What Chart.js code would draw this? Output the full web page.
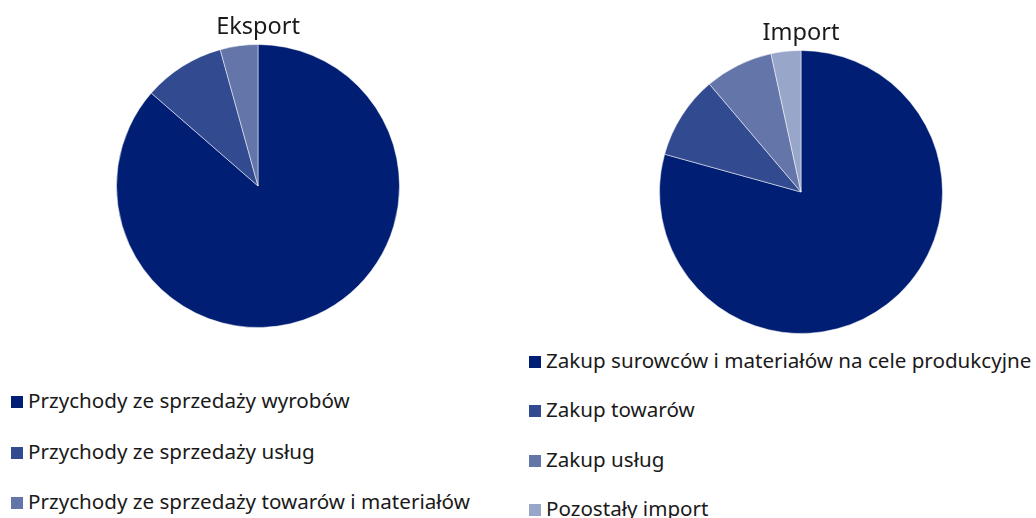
<!DOCTYPE html>
<html>
<head>
<meta charset="utf-8">
<script src="https://cdn.jsdelivr.net/npm/chart.js@4/dist/chart.umd.min.js"></script>
<style>
  html, body { margin: 0; padding: 0; background: #fff; }
  body { width: 1036px; height: 518px; position: relative; overflow: hidden; font-family: "Noto Sans", sans-serif; }
  .wrap { position: absolute; width: 300px; height: 328px; }
  .legend { position: absolute; color: #1a1a1a; font-size: 20.6px; }
  .legend div { position: absolute; white-space: nowrap; line-height: 24px; height: 24px; }
  .legend span.box { display: inline-block; width: 12px; height: 12px; margin-right: 5px; vertical-align: 0px; }
</style>
</head>
<body>
<div class="wrap" id="wrapExport" style="left:108px; top:0px;"><canvas id="exportChart"></canvas></div>
<div class="wrap" id="wrapImport" style="left:651px; top:6px;"><canvas id="importChart"></canvas></div>
<div class="legend" id="legendExport" style="left:11px; top:0px;"></div>
<div class="legend" id="legendImport" style="left:529px; top:0px;"></div>
<script>
// shares in % (clockwise from 12 o'clock)
const exportLabels = ['Przychody ze sprzedaży wyrobów', 'Przychody ze sprzedaży usług', 'Przychody ze sprzedaży towarów i materiałów'];
const exportValues = [86.4, 9.3, 4.3];
const importLabels = ['Zakup surowców i materiałów na cele produkcyjne', 'Zakup towarów', 'Zakup usług', 'Pozostały import'];
const importValues = [79.3, 9.5, 7.8, 3.4];

const colors = ['#001e73', '#324a8f', '#6475aa', '#98a6c9'];

function makePie(canvasId, title, labels, values) {
  const ctx = document.getElementById(canvasId).getContext('2d');
  return new Chart(ctx, {
    type: 'pie',
    data: {
      labels: labels,
      datasets: [{
        data: values,
        backgroundColor: colors.slice(0, values.length),
        borderColor: 'rgba(255,255,255,0.5)',
        borderWidth: 1,
      }]
    },
    options: {
      responsive: true,
      maintainAspectRatio: false,
      animation: false,
      layout: { padding: 0 },
      plugins: {
        legend: { display: false },
        tooltip: { enabled: false },
        title: {
          display: true,
          text: title,
          color: '#1a1a1a',
          font: { family: '"Noto Sans", sans-serif', size: 23.5, weight: 'normal', lineHeight: 1.2 },
          padding: { top: 13, bottom: 2.8 }
        }
      }
    }
  });
}

function makeLegend(elId, labels, rowTops) {
  const el = document.getElementById(elId);
  labels.forEach((label, i) => {
    const row = document.createElement('div');
    row.style.top = rowTops[i] + 'px';
    row.innerHTML = '<span class="box" style="background:' + colors[i] + '"></span>' + label;
    el.appendChild(row);
  });
}

makePie('exportChart', 'Eksport', exportLabels, exportValues);
makePie('importChart', 'Import', importLabels, importValues);

makeLegend('legendExport', exportLabels, [388, 439, 489]);
makeLegend('legendImport', importLabels, [348, 397, 447, 496]);
</script>
</body>
</html>
